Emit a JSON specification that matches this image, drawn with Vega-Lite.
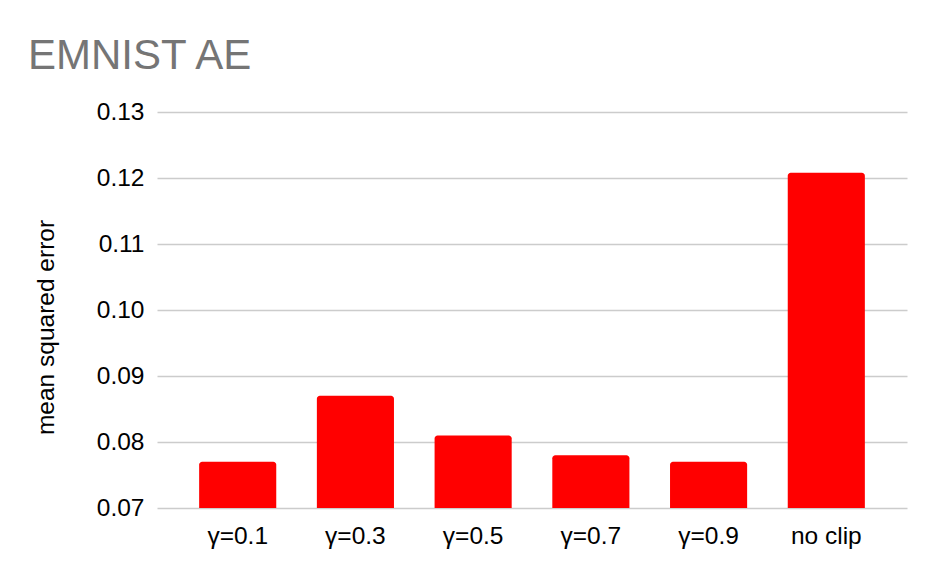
{
  "$schema": "https://vega.github.io/schema/vega-lite/v6.json",
  "autosize": {"type": "none"},
  "width": 750,
  "height": 396,
  "padding": {"left": 157, "top": 112, "right": 29, "bottom": 72},
  "background": "white",
  "title": {
    "text": "EMNIST AE",
    "anchor": "start",
    "frame": "group",
    "font": "Liberation Sans",
    "fontSize": 42,
    "fontWeight": "normal",
    "color": "#757575",
    "baseline": "alphabetic",
    "dx": -129,
    "dy": 12,
    "offset": 0
  },
  "data": {
    "values": [
      {"setting": "γ=0.1", "mse": 0.077},
      {"setting": "γ=0.3", "mse": 0.087},
      {"setting": "γ=0.5", "mse": 0.081},
      {"setting": "γ=0.7", "mse": 0.078},
      {"setting": "γ=0.9", "mse": 0.077},
      {"setting": "no clip", "mse": 0.1208}
    ]
  },
  "mark": {
    "type": "bar",
    "color": "#ff0000",
    "cornerRadiusTopLeft": 3,
    "cornerRadiusTopRight": 3
  },
  "encoding": {
    "x": {
      "field": "setting",
      "type": "nominal",
      "sort": null,
      "scale": {"paddingInner": 0.345, "paddingOuter": 0.358},
      "axis": {
        "title": null,
        "labelAngle": 0,
        "labelFont": "Liberation Sans",
        "labelFontSize": 24.5,
        "labelColor": "#000000",
        "labelPadding": 16,
        "domain": false,
        "ticks": false,
        "grid": false
      }
    },
    "y": {
      "field": "mse",
      "type": "quantitative",
      "scale": {"domain": [0.07, 0.13], "zero": false, "nice": false},
      "axis": {
        "title": "mean squared error",
        "titleFont": "Liberation Sans",
        "titleFontSize": 24.5,
        "titleFontWeight": "normal",
        "titleColor": "#000000",
        "titleAngle": 270,
        "titleAlign": "center",
        "titleBaseline": "alphabetic",
        "titleX": -104,
        "titleY": 215,
        "values": [0.07, 0.08, 0.09, 0.1, 0.11, 0.12, 0.13],
        "format": ".2f",
        "labelFont": "Liberation Sans",
        "labelFontSize": 24.5,
        "labelColor": "#000000",
        "labelPadding": 13,
        "domain": false,
        "ticks": false,
        "grid": true,
        "gridColor": "#cccccc",
        "gridWidth": 1.6
      }
    },
    "y2": {"datum": 0.07}
  },
  "config": {
    "view": {"stroke": null}
  }
}
